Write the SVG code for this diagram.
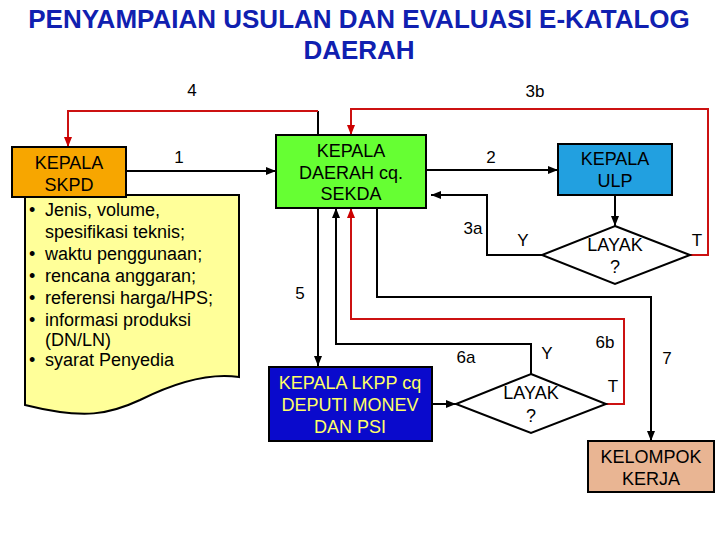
<svg xmlns="http://www.w3.org/2000/svg" width="720" height="540" viewBox="0 0 720 540">
<defs>
<marker id="ab" viewBox="0 0 10 10" refX="10" refY="5" markerWidth="5" markerHeight="5" orient="auto"><path d="M0,1 L10,5 L0,9 Z" fill="#000"/></marker>
<marker id="ar" viewBox="0 0 10 10" refX="10" refY="5" markerWidth="5" markerHeight="5" orient="auto"><path d="M0,1 L10,5 L0,9 Z" fill="#CC0000"/></marker>
<style>
text{font-family:"Liberation Sans",Arial,sans-serif;font-size:18px;fill:#000}
.l{font-size:17px}
.t{font-size:26px;font-weight:bold;fill:#1020B0}
.c{text-anchor:middle}
.box{stroke:#000;stroke-width:2}
.k{fill:none;stroke:#000;stroke-width:2}
.r{fill:none;stroke:#CC1111;stroke-width:2}
.y{fill:#FFFF66}
</style>
</defs>
<rect width="720" height="540" fill="#fff"/>
<text class="t c" x="359" y="28">PENYAMPAIAN USULAN DAN EVALUASI E-KATALOG</text>
<text class="t c" x="359" y="59">DAERAH</text>

<g id="connectors">
<path class="k" d="M318,135 V111"/>
<path class="r" d="M318,111 H68 V147" marker-end="url(#ar)"/>
<path class="k" d="M126,171 H276" marker-end="url(#ab)"/>
<path class="k" d="M426,170 H558" marker-end="url(#ab)"/>
<path class="k" d="M615,195 V226" marker-end="url(#ab)"/>
<path class="r" d="M690,255 H708 V109 H351 V135" marker-end="url(#ar)"/>
<path class="k" d="M542,255 H487 V195 H431" marker-end="url(#ab)"/>
<path class="k" d="M318,208 V366" marker-end="url(#ab)"/>
<path class="k" d="M531,374 V344 H336 V208" marker-end="url(#ab)"/>
<path class="r" d="M606,404 H624 V319 H351 V208" marker-end="url(#ar)"/>
<path class="k" d="M377,208 V297 H651 V441" marker-end="url(#ab)"/>
<path class="k" d="M432,404 H456" marker-end="url(#ab)"/>
<text class="l c" x="192" y="96">4</text>
<text class="l c" x="535" y="97">3b</text>
<text class="l c" x="179" y="163">1</text>
<text class="l c" x="491" y="163">2</text>
<text class="l c" x="473" y="234">3a</text>
<text class="l c" x="523" y="246">Y</text>
<text class="l c" x="697" y="246">T</text>
<text class="l c" x="300" y="299">5</text>
<text class="l c" x="466" y="363">6a</text>
<text class="l c" x="547" y="359">Y</text>
<text class="l c" x="605" y="348">6b</text>
<text class="l c" x="613" y="392">T</text>
<text class="l c" x="667" y="364">7</text>
</g>

<g id="doc">
<path d="M25,195 H239 V377 C205,372 170,385 140,400 C110,414 85,420 25,405 Z" fill="#FFFF99" stroke="#000" stroke-width="2"/>
<text x="29" y="216">•</text><text x="45" y="216">Jenis, volume,</text>
<text x="45" y="238">spesifikasi teknis;</text>
<text x="29" y="260">•</text><text x="45" y="260">waktu penggunaan;</text>
<text x="29" y="282">•</text><text x="45" y="282">rencana anggaran;</text>
<text x="29" y="304">•</text><text x="45" y="304">referensi harga/HPS;</text>
<text x="29" y="326">•</text><text x="45" y="326">informasi produksi</text>
<text x="45" y="346">(DN/LN)</text>
<text x="29" y="366">•</text><text x="45" y="366">syarat Penyedia</text>
</g>

<g id="skpd">
<rect class="box" x="12" y="147" width="114" height="50" fill="#F7A600"/>
<text class="c" x="69" y="169">KEPALA</text>
<text class="c" x="69" y="191">SKPD</text>
</g>

<g id="daerah">
<rect class="box" x="276" y="135" width="150" height="73" fill="#66FF33"/>
<text class="c" x="351" y="157">KEPALA</text>
<text class="c" x="351" y="179">DAERAH cq.</text>
<text class="c" x="351" y="200">SEKDA</text>
</g>

<g id="ulp">
<rect class="box" x="558" y="144" width="114" height="51" fill="#22A0E0"/>
<text class="c" x="615" y="165">KEPALA</text>
<text class="c" x="615" y="187">ULP</text>
</g>

<g id="layak1">
<polygon class="box" points="615,226 690,255 615,284 542,255" fill="#fff"/>
<text class="c" x="615" y="251">LAYAK</text>
<text class="c" x="615" y="273">?</text>
</g>

<g id="lkpp">
<rect class="box" x="269" y="367" width="163" height="74" fill="#0A0ACC"/>
<text class="c y" x="350" y="389">KEPALA LKPP cq</text>
<text class="c y" x="350" y="411">DEPUTI MONEV</text>
<text class="c y" x="350" y="433">DAN PSI</text>
</g>

<g id="layak2">
<polygon class="box" points="531,374 606,404 531,433 456,404" fill="#fff"/>
<text class="c" x="531" y="399">LAYAK</text>
<text class="c" x="531" y="422">?</text>
</g>

<g id="kelompok">
<rect class="box" x="588" y="441" width="126" height="51" fill="#E9B593"/>
<text class="c" x="651" y="463">KELOMPOK</text>
<text class="c" x="651" y="485">KERJA</text>
</g>
</svg>
